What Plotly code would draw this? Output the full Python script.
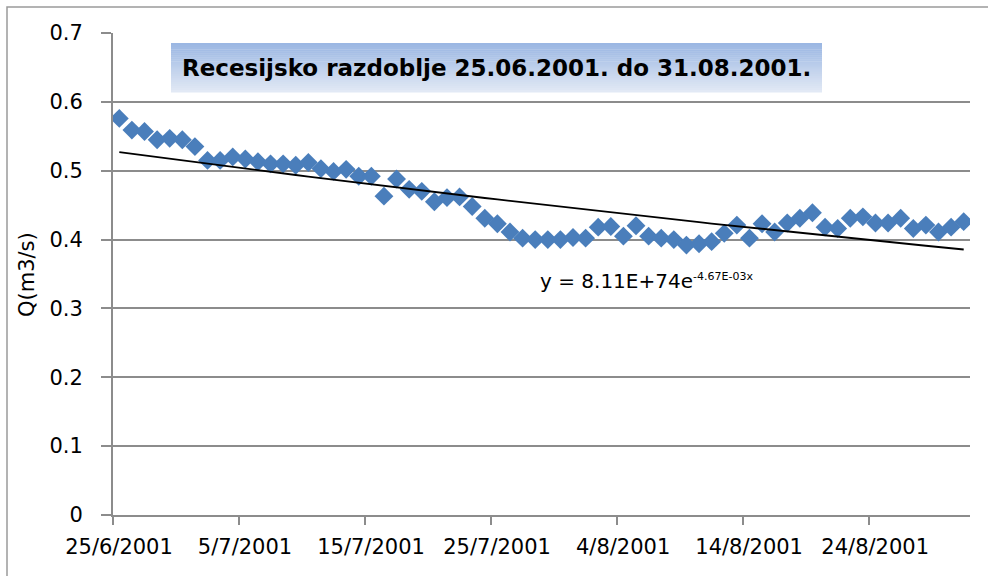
import numpy as np
import pandas as pd
import plotly.graph_objects as go

# ---- data ----
start_date = "2001-06-25"
end_date = "2001-08-31"
dates = pd.date_range(start_date, end_date, freq="D")
q_values = [
    0.576, 0.559, 0.557, 0.545, 0.547, 0.545, 0.535, 0.515, 0.515, 0.520,
    0.517, 0.513, 0.510, 0.510, 0.508, 0.512, 0.503, 0.499, 0.502, 0.492,
    0.492, 0.463, 0.488, 0.473, 0.470, 0.455, 0.461, 0.462, 0.448, 0.431,
    0.423, 0.411, 0.402, 0.400, 0.400, 0.400, 0.403, 0.402, 0.418, 0.419,
    0.405, 0.420, 0.405, 0.402, 0.400, 0.392, 0.394, 0.397, 0.409, 0.421,
    0.402, 0.423, 0.411, 0.424, 0.431, 0.439, 0.418, 0.416, 0.431, 0.433,
    0.424, 0.424, 0.431, 0.416, 0.421, 0.411, 0.418, 0.426,
]
tick_dates = ["2001-06-25", "2001-07-05", "2001-07-15", "2001-07-25",
              "2001-08-04", "2001-08-14", "2001-08-24"]
tick_labels = ["25/6/2001", "5/7/2001", "15/7/2001", "25/7/2001",
               "4/8/2001", "14/8/2001", "24/8/2001"]
y_ticks = [0, 0.1, 0.2, 0.3, 0.4, 0.5, 0.6, 0.7]
y_labels = ["0", "0.1", "0.2", "0.3", "0.4", "0.5", "0.6", "0.7"]
title_text = "Recesijsko razdoblje 25.06.2001. do 31.08.2001."
equation_main = "y = 8.11E+74e"
equation_exp = "-4.67E-03x"
y_title = "Q(m3/s)"

# points sit in the middle of each day (date axis, between tick marks)
x_pts = dates + pd.Timedelta(hours=12)

# exponential trendline fitted to the data
t = np.arange(len(q_values), dtype=float)
b, a = np.polyfit(t, np.log(q_values), 1)
trend = np.exp(a + b * t)

BLUE = "#4a7ebb"
GRID = "#8c8c8c"
FONT = "DejaVu Sans"

fig = go.Figure()
fig.add_trace(go.Scatter(
    x=x_pts, y=q_values, mode="markers",
    marker=dict(symbol="diamond", size=14.5, color=BLUE, line=dict(width=0)),
    showlegend=False, hoverinfo="skip",
))
fig.add_trace(go.Scatter(
    x=x_pts, y=trend, mode="lines",
    line=dict(color="black", width=1.8),
    showlegend=False, hoverinfo="skip",
))

fig.update_layout(
    width=988, height=576,
    margin=dict(l=113, r=18, t=33, b=61),
    paper_bgcolor="white", plot_bgcolor="white",
    font=dict(family=FONT, color="black", size=20),
    xaxis=dict(
        range=["2001-06-25", "2001-09-01"],
        tickvals=tick_dates, ticktext=tick_labels,
        ticks="outside", ticklen=8, tickcolor=GRID, tickwidth=1.5,
        showline=True, linecolor=GRID, linewidth=2,
        showgrid=False, zeroline=False,
        tickfont=dict(family=FONT, size=21),
        ticklabelshift=6, ticklabelstandoff=4,
    ),
    yaxis=dict(
        range=[0, 0.7],
        tickvals=y_ticks, ticktext=y_labels,
        ticks="outside", ticklen=10, tickcolor=GRID, tickwidth=1.5,
        showline=True, linecolor=GRID, linewidth=2,
        showgrid=True, gridcolor=GRID, gridwidth=1.5,
        zeroline=False,
        tickfont=dict(family=FONT, size=21),
        ticklabelstandoff=14,
    ),
)

# outer chart border
fig.add_shape(type="rect", xref="paper", yref="paper",
              x0=(7 - 113) / 857, x1=1.2, y0=-0.3, y1=(515 - 7) / 482,
              line=dict(color="#9a9a9a", width=1.5), fillcolor="rgba(0,0,0,0)",
              layer="below")

# title box with vertical gradient
bx0, bx1 = (171 - 113) / 857, (822 - 113) / 857
by_top, by_bot = (515 - 43) / 482, (515 - 92) / 482
top_rgb = np.array([155, 183, 227])
bot_rgb = np.array([226, 233, 245])
n_strips = 24
for k in range(n_strips):
    f = k / (n_strips - 1)
    c = top_rgb + (bot_rgb - top_rgb) * f
    y_hi = by_top - (by_top - by_bot) * k / n_strips
    y_lo = by_top - (by_top - by_bot) * (k + 1) / n_strips
    fig.add_shape(type="rect", xref="paper", yref="paper",
                  x0=bx0, x1=bx1, y0=y_lo - 0.001, y1=y_hi,
                  line=dict(width=0),
                  fillcolor="rgb(%d,%d,%d)" % tuple(c.astype(int)))

fig.add_annotation(
    text="<b>" + title_text + "</b>", xref="paper", yref="paper",
    x=(496 - 113) / 857, y=(515 - 68) / 482, showarrow=False,
    xanchor="center", yanchor="middle",
    font=dict(family=FONT, size=23, color="black"),
)

fig.add_annotation(
    text=equation_main + "<sup><span style='font-size:11px'>" + equation_exp + "</span></sup>",
    xref="paper", yref="paper",
    x=(538 - 113) / 857, y=(515 - 281) / 482, showarrow=False,
    xanchor="left", yanchor="middle",
    font=dict(family=FONT, size=20, color="black"),
)

fig.add_annotation(
    text=y_title, xref="paper", yref="paper",
    x=(27 - 113) / 857, y=(515 - 275) / 482, showarrow=False,
    textangle=-90, xanchor="center", yanchor="middle",
    font=dict(family=FONT, size=21, color="black"),
)

fig.write_html(
    "out.html",
    config={"displayModeBar": False},
    post_script="document.body.style.margin='0px';document.body.style.overflow='hidden';",
)
